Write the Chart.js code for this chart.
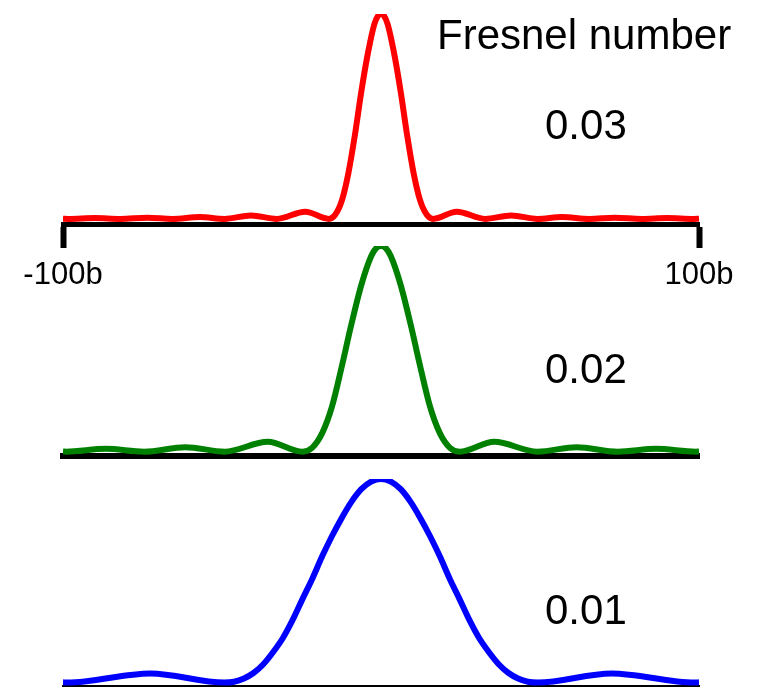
<!DOCTYPE html>
<html>
<head>
<meta charset="utf-8">
<script src="https://cdn.jsdelivr.net/npm/chart.js@4.4.1/dist/chart.umd.min.js"></script>
<style>
  html, body { margin: 0; padding: 0; background: #fff; }
  #wrap { position: relative; width: 758px; height: 687px; overflow: hidden; }
  canvas { position: absolute; left: 0; }
  .lbl {
    position: absolute;
    font-family: "Liberation Sans", Arial, sans-serif;
    font-size: 42px;
    line-height: 1;
    color: #000;
    white-space: nowrap;
  }
</style>
</head>
<body>
<div id="wrap">
  <canvas id="redChart" width="758" height="290" style="top:0"></canvas>
  <canvas id="greenChart" width="758" height="240" style="top:228px"></canvas>
  <canvas id="blueChart" width="758" height="227" style="top:460px"></canvas>
  <div class="lbl" style="left:437px;top:14px">Fresnel number</div>
  <div class="lbl" style="left:545px;top:104px">0.03</div>
  <div class="lbl" style="left:545px;top:348px">0.02</div>
  <div class="lbl" style="left:545px;top:589px">0.01</div>
</div>
<script>
// positions along the screen, in units of b
const axisTicks = [-100, 100];
const tickLabels = ["-100b", "100b"];

// Fresnel number 0.03 (red, top)
const redX = [-100, -98.4, -89.9, -82, -73.5, -65.6, -56.9, -49.2, -40.9, -32.8, -23.8, -16.4,
  -14.4, -12.3, -10.3, -8.2, -6.2, -4.1, -2.1, -1, 0, 1, 2.1, 4.1, 6.2, 8.2, 10.3, 12.3, 14.4,
  16.4, 23.8, 32.8, 40.9, 49.2, 56.9, 65.6, 73.5, 82, 89.9, 98.4, 100];
const redY = [0.001, 0, 0.004, 0, 0.006, 0, 0.009, 0, 0.017, 0, 0.035, 0,
  0.02, 0.09, 0.22, 0.41, 0.62, 0.81, 0.95, 0.99, 1, 0.99, 0.95, 0.81, 0.62, 0.41, 0.22, 0.09, 0.02,
  0, 0.035, 0, 0.017, 0, 0.009, 0, 0.006, 0, 0.004, 0, 0.001];

// Fresnel number 0.02 (green, middle)
const greenX = [-100, -99, -86.5, -74.5, -61.5, -49.2, -35.6, -24.7,
  -21.6, -18.5, -15.4, -12.4, -9.3, -6.2, -3.1, -1.5, 0, 1.5, 3.1, 6.2, 9.3, 12.4, 15.4, 18.5, 21.6,
  24.7, 35.6, 49.2, 61.5, 74.5, 86.5, 99, 100];
const greenY = [0.001, 0, 0.014, 0, 0.022, 0, 0.048, 0,
  0.02, 0.09, 0.22, 0.41, 0.62, 0.81, 0.95, 0.99, 1, 0.99, 0.95, 0.81, 0.62, 0.41, 0.22, 0.09, 0.02,
  0, 0.048, 0, 0.022, 0, 0.014, 0, 0.001];

// Fresnel number 0.01 (blue, bottom)
const blueX = [-100, -98.6, -72.5, -49.3, -46.2, -43.1, -40.1, -37, -33.9, -30.8, -27.7, -24.7,
  -21.6, -18.5, -15.4, -12.3, -9.2, -6.2, -3.1, 0, 3.1, 6.2, 9.2, 12.3, 15.4, 18.5, 21.6,
  24.7, 27.7, 30.8, 33.9, 37, 40.1, 43.1, 46.2, 49.3, 72.5, 98.6, 100];
const blueY = [0.001, 0, 0.045, 0, 0.004, 0.02, 0.047, 0.09, 0.15, 0.22, 0.31, 0.41,
  0.51, 0.62, 0.72, 0.81, 0.89, 0.95, 0.987, 1, 0.987, 0.95, 0.89, 0.81, 0.72, 0.62, 0.51,
  0.41, 0.31, 0.22, 0.15, 0.09, 0.047, 0.02, 0.004, 0, 0.045, 0, 0.001];

function toPoints(xs, ys) {
  return xs.map((x, i) => ({ x: x, y: ys[i] }));
}

// one panel = one chart; pad/axis sizes place the plot area on the page
function panel(id, xs, ys, color, yMin, pad, axisHeight, axisWidth, withTicks) {
  return new Chart(document.getElementById(id), {
    type: "line",
    data: {
      datasets: [{
        data: toPoints(xs, ys),
        borderColor: color,
        borderWidth: 6,
        pointRadius: 0,
        fill: false,
        cubicInterpolationMode: "monotone"
      }]
    },
    options: {
      responsive: false,
      animation: false,
      layout: { padding: pad },
      plugins: { legend: { display: false }, tooltip: { enabled: false } },
      scales: {
        x: {
          type: "linear",
          min: -100,
          max: 100,
          afterBuildTicks: (s) => { s.ticks = axisTicks.map(v => ({ value: v })); },
          afterFit: (s) => { s.height = axisHeight; },
          border: { display: true, color: "#000", width: axisWidth },
          grid: {
            display: withTicks,
            drawOnChartArea: false,
            drawTicks: true,
            tickLength: 24,
            tickWidth: 6,
            tickColor: "#000"
          },
          ticks: {
            display: withTicks,
            autoSkip: false,
            maxRotation: 0,
            padding: 9,
            color: "#000",
            font: { family: "Liberation Sans", size: 31 },
            callback: (v, i) => tickLabels[i]
          }
        },
        y: { display: false, min: yMin, max: 1 }
      }
    }
  });
}

panel("redChart", redX, redY, "#ff0000", -0.025,
  { left: 63, right: 59, top: 14, bottom: 0 }, 66, 5, true);
panel("greenChart", greenX, greenY, "#008000", -0.021,
  { left: 63, right: 59, top: 18, bottom: 0 }, 12, 6, false);
panel("blueChart", blueX, blueY, "#0000ff", -0.017,
  { left: 63, right: 59, top: 19, bottom: 0 }, 1, 2, false);
</script>
</body>
</html>
